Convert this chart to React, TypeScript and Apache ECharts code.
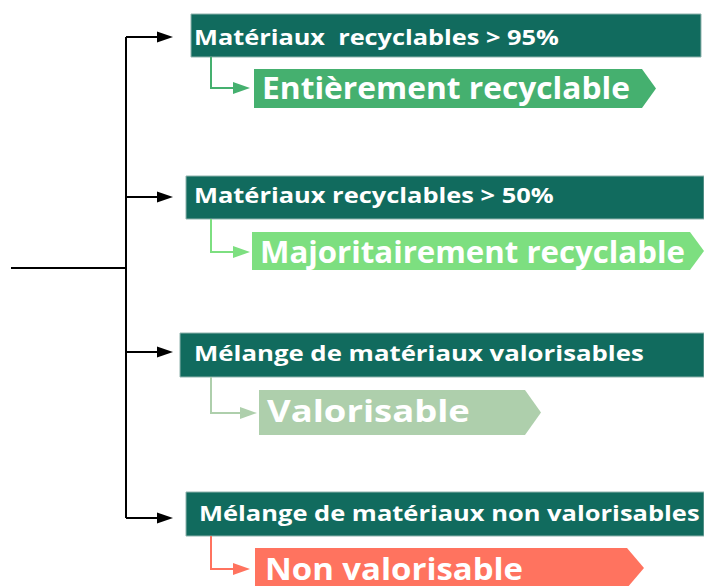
import React, { useEffect, useRef } from "react";
import * as echarts from "echarts";

// Diagram content
const criteria = [
  "Matériaux  recyclables > 95%",
  "Matériaux recyclables > 50%",
  "Mélange de matériaux valorisables",
  "Mélange de matériaux non valorisables",
];
const labels = [
  "Entièrement recyclable",
  "Majoritairement recyclable",
  "Valorisable",
  "Non valorisable",
];

// Styles
const HEADER_COLOR = "#116b5e";
const LABEL_COLORS = ["#45b06f", "#7ddf80", "#aecfac", "#ff735f"];
const FONT = "'Open Sans'";

// Layout (pixel geometry of the diagram)
const HEADER_BOX = [
  { x: 191, y: 14, h: 43, r: 701 },
  { x: 186, y: 176, h: 43, r: 704 },
  { x: 180, y: 333, h: 44, r: 704 },
  { x: 186, y: 492, h: 44, r: 704 },
];
const HEADER_TEXT = [
  { x: 195, y: 36.5, w: 365 },
  { x: 195, y: 194.5, w: 360 },
  { x: 195, y: 352.5, w: 450 },
  { x: 200, y: 512.5, w: 501 },
];
const TRUNK_X = 126;
const HEADER_ARROW_Y = [37, 197, 352, 518];
const HEADER_ARROW_TIP = 173;
const SUB_X = 211;
const SUB_Y = [88, 252, 413, 569];
const SUB_TIP = [250, 250, 257, 250];
const LABEL_BOX = [
  { x: 254, t: 69, b: 108, p: 642, tip: 656 },
  { x: 252, t: 232, b: 270, p: 690, tip: 704 },
  { x: 259, t: 390, b: 435, p: 525, tip: 541 },
  { x: 255, t: 548, b: 588, p: 627, tip: 644 },
];
const LABEL_TEXT = [
  { x: 263, y: 87.5, w: 368 },
  { x: 261, y: 251.5, w: 425 },
  { x: 268, y: 410.5, w: 203 },
  { x: 266, y: 568, w: 258 },
];

function measure(text: string, size: number): number {
  const c = document.createElement("canvas");
  const ctx = c.getContext("2d")!;
  ctx.font = `bold ${size}px ${FONT}`;
  return ctx.measureText(text).width;
}

function arrowHead(tipX: number, y: number, len: number, half: number, color: string) {
  return {
    type: "polygon",
    shape: { points: [[tipX, y], [tipX - len, y - half], [tipX - len, y + half]] },
    style: { fill: color },
  };
}

export default function App() {
  const ref = useRef<HTMLDivElement>(null);
  useEffect(() => {
    if (!ref.current) return;
    const chart = echarts.init(ref.current, null, { renderer: "svg" });
    const els: any[] = [];

    els.push({
      type: "line",
      shape: { x1: TRUNK_X, y1: HEADER_ARROW_Y[0], x2: TRUNK_X, y2: HEADER_ARROW_Y[3] },
      style: { stroke: "#000", lineWidth: 2 },
    });
    els.push({
      type: "line",
      shape: { x1: 11, y1: 268, x2: TRUNK_X, y2: 268 },
      style: { stroke: "#000", lineWidth: 2 },
    });

    criteria.forEach((txt, i) => {
      const hb = HEADER_BOX[i];
      const ay = HEADER_ARROW_Y[i];
      els.push({
        type: "line",
        shape: { x1: TRUNK_X, y1: ay, x2: HEADER_ARROW_TIP - 12, y2: ay },
        style: { stroke: "#000", lineWidth: 2 },
      });
      els.push(arrowHead(HEADER_ARROW_TIP, ay, 16, 5.5, "#000"));
      els.push({
        type: "rect",
        shape: { x: hb.x, y: hb.y, width: hb.r - hb.x, height: hb.h },
        style: { fill: HEADER_COLOR, stroke: "#8fb3ad", lineWidth: 1 },
      });
      const ht = HEADER_TEXT[i];
      const hs = 22;
      els.push({
        type: "text",
        x: ht.x - 1,
        y: ht.y,
        scaleX: ht.w / measure(txt, hs),
        style: {
          text: txt,
          fill: "#ffffff",
          font: `bold ${hs}px ${FONT}`,
          lineHeight: hs,
          align: "left",
          verticalAlign: "middle",
        },
      });

      const col = LABEL_COLORS[i];
      const sy = SUB_Y[i];
      const tip = SUB_TIP[i];
      els.push({
        type: "polyline",
        shape: { points: [[SUB_X, hb.y + hb.h], [SUB_X, sy], [tip - 14, sy]] },
        style: { stroke: col, lineWidth: 2, fill: null },
      });
      els.push(arrowHead(tip, sy, 17, 6, col));

      const lb = LABEL_BOX[i];
      const mid = (lb.t + lb.b) / 2;
      els.push({
        type: "polygon",
        shape: {
          points: [
            [lb.x, lb.t],
            [lb.p, lb.t],
            [lb.tip, mid],
            [lb.p, lb.b],
            [lb.x, lb.b],
          ],
        },
        style: { fill: col },
      });
      const lt = LABEL_TEXT[i];
      const ls = 30;
      const lbl = labels[i];
      els.push({
        type: "text",
        x: lt.x - 1,
        y: lt.y,
        scaleX: lt.w / measure(lbl, ls),
        style: {
          text: lbl,
          fill: "#ffffff",
          font: `bold ${ls}px ${FONT}`,
          lineHeight: ls,
          align: "left",
          verticalAlign: "middle",
        },
      });
    });

    chart.setOption({
      animation: false,
      backgroundColor: "#ffffff",
      graphic: { elements: els },
    });
    return () => chart.dispose();
  }, []);
  return (
    <div
      ref={ref}
      style={{ position: "fixed", left: 0, top: 0, width: 704, height: 586 }}
    />
  );
}
